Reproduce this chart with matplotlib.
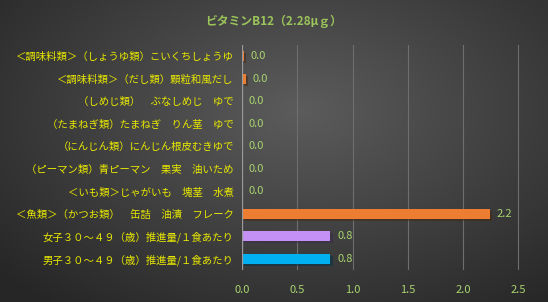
import numpy as np
import matplotlib.pyplot as plt
import matplotlib.patheffects as pe

plt.rcParams['font.family'] = ['Noto Sans CJK JP', 'DejaVu Sans']

TITLE = "ビタミンB12（2.28μｇ）"

labels = [
    "＜調味料類＞（しょうゆ類）こいくちしょうゆ",
    "＜調味料類＞（だし類）顆粒和風だし",
    "（しめじ類）　ぶなしめじ　ゆで",
    "（たまねぎ類）たまねぎ　りん茎　ゆで",
    "（にんじん類）にんじん根皮むきゆで",
    "（ピーマン類）青ピーマン　果実　油いため",
    "＜いも類＞じゃがいも　塊茎　水煮",
    "＜魚類＞（かつお類）　缶詰　油漬　フレーク",
    "女子３０～４９（歳）推進量/１食あたり",
    "男子３０～４９（歳）推進量/１食あたり",
]
values = [0.02, 0.035, 0.0, 0.0, 0.0, 0.0, 0.0, 2.24, 0.8, 0.8]
colors = ["#ed7d31"] * 8 + ["#c490f5", "#00b0f0"]
xticks = [0.0, 0.5, 1.0, 1.5, 2.0, 2.5]

fig = plt.figure(figsize=(5.48, 3.02), dpi=100)

# radial grey background
bg = fig.add_axes([0, 0, 1, 1], zorder=-10)
yy, xx = np.mgrid[0:302, 0:548]
r = np.sqrt(((xx - 300) / 420.0) ** 2 + ((yy - 110) / 260.0) ** 2)
shade = np.clip(0.36 - 0.22 * r, 0.15, 0.36)
bg.imshow(np.dstack([shade] * 3), aspect='auto', extent=[0, 1, 0, 1])
bg.axis('off')

ax = fig.add_axes([242 / 548, 1 - 270 / 302, (524 - 242) / 548, (270 - 45) / 302])
ax.patch.set_alpha(0)
y = np.arange(len(labels))
bars = ax.barh(y, values, height=0.45, color=colors, zorder=3)
for b in bars:
    b.set_path_effects([pe.SimplePatchShadow(offset=(1.5, -1.5), alpha=0.5), pe.Normal()])

for yi, v in zip(y, values):
    ax.text(v + 0.06, yi, f"{v:.1f}", va='center', ha='left', color="#a9d46f", fontsize=8)

ax.set_yticks(y)
ax.set_yticklabels(labels, color="#e8e800", fontsize=7.5)
ax.set_xticks(xticks)
ax.set_xticklabels([f"{t:.1f}" for t in xticks], color="#a9d46f", fontsize=8)
ax.set_xlim(0, 2.55)
ax.set_ylim(len(labels) - 0.5, -0.5)
ax.tick_params(length=0, pad=6)
ax.tick_params(axis='x', pad=11)
ax.grid(axis='x', color="#6e6e6e", linewidth=0.8, zorder=0)
for s in ax.spines.values():
    s.set_visible(False)
ax.axvline(0, color="#9a9a9a", linewidth=0.9, zorder=4)

fig.text(0.5, 1 - 21 / 302, TITLE, ha='center', va='center', color="#9bc45a",
         fontsize=8.5, fontweight='bold')

fig.savefig("out.png", dpi=100)
